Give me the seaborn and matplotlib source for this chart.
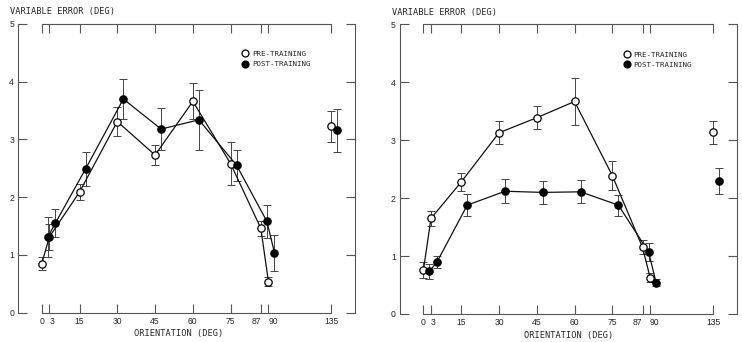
import matplotlib
matplotlib.use("Agg")
import matplotlib.pyplot as plt
from matplotlib.lines import Line2D
import pandas as pd
import seaborn as sns

sns.set_style("ticks")
plt.rcParams['font.family'] = ['Liberation Sans', 'DejaVu Sans']

# orientations tested; 135 sits on a compressed stretch of the axis
orientation = [0, 3, 15, 30, 45, 60, 75, 87, 90, 135]
axis_pos = [0, 3, 15, 30, 45, 60, 75, 87, 90, 115]
post_shift = 2.4  # post-training points are nudged right so they don't overlap

# left panel
left_pre = [0.85, 1.31, 2.09, 3.31, 2.73, 3.66, 2.58, 1.46, 0.54, 3.23]
left_pre_err = [0.11, 0.22, 0.14, 0.25, 0.18, 0.31, 0.37, 0.13, 0.07, 0.27]
left_post = [1.31, 1.55, 2.49, 3.70, 3.18, 3.34, 2.55, 1.58, 1.04, 3.16]
left_post_err = [0.35, 0.24, 0.30, 0.35, 0.37, 0.52, 0.27, 0.28, 0.31, 0.37]

# right panel
right_pre = [0.76, 1.65, 2.28, 3.13, 3.39, 3.67, 2.39, 1.15, 0.63, 3.14]
right_pre_err = [0.13, 0.13, 0.15, 0.20, 0.20, 0.40, 0.25, 0.12, 0.07, 0.20]
right_post = [0.74, 0.90, 1.88, 2.12, 2.10, 2.11, 1.88, 1.07, 0.54, 2.30]
right_post_err = [0.13, 0.10, 0.19, 0.21, 0.20, 0.20, 0.18, 0.16, 0.06, 0.23]

mono = 'DejaVu Sans Mono'
axis_col = '#555555'
# crowded tick labels are pushed off-centre like in the original
label_align = {3: 'left', 87: 'right', 90: 'left'}


def make_df(pre, pre_err, post, post_err):
    a = pd.DataFrame({'session': 'PRE-TRAINING', 'orientation': orientation,
                      'pos': axis_pos, 've': pre, 'err': pre_err})
    b = pd.DataFrame({'session': 'POST-TRAINING', 'orientation': orientation,
                      'pos': [p + post_shift for p in axis_pos], 've': post, 'err': post_err})
    return pd.concat([a, b], ignore_index=True)


def draw_panel(ax, df, xlabel_x):
    # connecting lines only over 0..90
    sns.lineplot(data=df[df.orientation <= 90], x='pos', y='ve', units='session',
                 estimator=None, color='#111111', lw=0.9, ax=ax, legend=False, zorder=2)
    for sess, face in [('PRE-TRAINING', 'white'), ('POST-TRAINING', 'black')]:
        d = df[df.session == sess]
        ax.errorbar(d.pos, d.ve, yerr=d.err, fmt='none', ecolor='#444444',
                    elinewidth=0.7, capsize=2.6, capthick=0.7, zorder=1)
        sns.scatterplot(data=d, x='pos', y='ve', marker='o', s=28, color=face,
                        edgecolor='black', linewidth=0.9, ax=ax, zorder=3, legend=False)

    ax.set_xlim(-9.3, 124.4)
    ax.set_ylim(0, 5)
    ax.set_xticks(axis_pos, labels=[str(o) for o in orientation])
    ax.set_yticks(range(6))
    ax.tick_params(axis='both', direction='in', top=True, right=True,
                   labeltop=False, labelright=False, length=6.5, width=0.8,
                   color=axis_col, labelsize=6.2, pad=3)
    for o, lab in zip(orientation, ax.get_xticklabels()):
        lab.set_ha(label_align.get(o, 'center'))
    for s in ax.spines.values():
        s.set_color(axis_col)
        s.set_linewidth(0.8)
    ax.spines['top'].set_bounds(0, 115)
    ax.spines['bottom'].set_bounds(0, 115)

    ax.set_ylabel('')
    ax.set_xlabel('ORIENTATION (DEG)', fontfamily=mono, fontsize=6.2)
    ax.xaxis.set_label_coords(xlabel_x, -0.058)
    ax.text(-0.025, 1.043, 'VARIABLE ERROR (DEG)', transform=ax.transAxes,
            fontfamily=mono, fontsize=6.2, ha='left', va='center')

    handles = [Line2D([], [], marker='o', ls='none', mfc='white', mec='black', ms=5, mew=0.9,
                      label='PRE-TRAINING'),
               Line2D([], [], marker='o', ls='none', mfc='black', mec='black', ms=5, mew=0.9,
                      label='POST-TRAINING')]
    ax.legend(handles=handles, loc='upper left', bbox_to_anchor=(0.664, 0.907),
              frameon=False, prop={'family': mono, 'size': 5.4}, handlelength=0.8,
              handletextpad=0.55, borderpad=0, borderaxespad=0, labelspacing=0.55)


fig = plt.figure(figsize=(7.42, 3.42), dpi=100)
ax1 = fig.add_axes([0.0247, 0.0857, 0.4538, 0.8442])
ax2 = fig.add_axes([0.5391, 0.0819, 0.4538, 0.8465])

draw_panel(ax1, make_df(left_pre, left_pre_err, left_post, left_post_err), 0.477)
draw_panel(ax2, make_df(right_pre, right_pre_err, right_post, right_post_err), 0.501)

fig.savefig('out.png', dpi=100)
